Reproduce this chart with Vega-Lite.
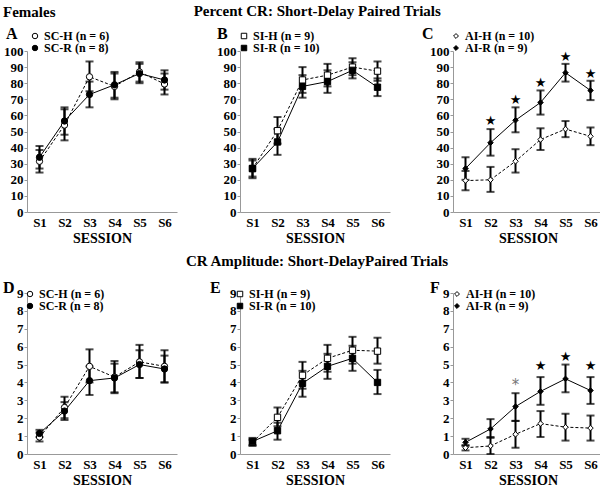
{
"$schema":"https://vega.github.io/schema/vega-lite/v6.json",
"padding":{"left":3,"top":4,"right":0,"bottom":0},
"config":{"font":"Liberation Serif","view":{"stroke":null},
"title":{"font":"Liberation Serif","fontWeight":"bold","fontSize":15,"color":"black"},
"axis":{"labelFont":"Liberation Serif","labelFontWeight":"bold","labelFontSize":13,"labelColor":"black","domainColor":"#999","tickColor":"#999","grid":false,"titleFont":"Liberation Serif","titleFontWeight":"bold","titleFontSize":14,"titleColor":"black","labelOverlap":false},
"axisX":{"ticks":false,"labelPadding":4,"labelAngle":0,"titlePadding":2},
"axisY":{"tickSize":3,"labelPadding":1},
"legend":{"orient":"none","titleOrient":"left","titleFont":"Liberation Serif","titleFontWeight":"bold","titleFontSize":16,"titleColor":"black","labelFont":"Liberation Serif","labelFontWeight":"bold","labelFontSize":12,"labelColor":"black","symbolSize":30,"symbolStrokeColor":"black","symbolStrokeWidth":1,"rowPadding":0,"labelOffset":3}},
"title":{"text":"Females","anchor":"start","dy":20},
"spacing":9,
"resolve":{"scale":{"fill":"independent"},"legend":{"fill":"independent"}},
"vconcat":[
{"title":{"text":"Percent CR: Short-Delay Paired Trials","anchor":"middle","dx":14,"offset":11},
"bounds":"flush","spacing":63,
"resolve":{"scale":{"fill":"independent"},"legend":{"fill":"independent"}},
"hconcat":[
{"width":150,"height":161,
"data":{"values":[
{"session":"S1","group":"SC-H (n = 6)","mean":31.5,"lo":24.5,"hi":38.5},
{"session":"S2","group":"SC-H (n = 6)","mean":54,"lo":44.5,"hi":63.8},
{"session":"S3","group":"SC-H (n = 6)","mean":84,"lo":75,"hi":93.5},
{"session":"S4","group":"SC-H (n = 6)","mean":78,"lo":70,"hi":86},
{"session":"S5","group":"SC-H (n = 6)","mean":87,"lo":81,"hi":93},
{"session":"S6","group":"SC-H (n = 6)","mean":79.5,"lo":73,"hi":86},
{"session":"S1","group":"SC-R (n = 8)","mean":34,"lo":27,"hi":41},
{"session":"S2","group":"SC-R (n = 8)","mean":56.5,"lo":48,"hi":65},
{"session":"S3","group":"SC-R (n = 8)","mean":73,"lo":65,"hi":81},
{"session":"S4","group":"SC-R (n = 8)","mean":79,"lo":71,"hi":87},
{"session":"S5","group":"SC-R (n = 8)","mean":86,"lo":80,"hi":92},
{"session":"S6","group":"SC-R (n = 8)","mean":82,"lo":76,"hi":88}]},
"encoding":{"x":{"field":"session","type":"ordinal","scale":{"type":"point","padding":0.5},"axis":{"title":"SESSION"}}},
"layer":[
{"mark":{"type":"errorbar","ticks":true,"size":8,"thickness":2,"color":"black"},"encoding":{"y":{"field":"lo","type":"quantitative","title":null,"scale":{"domain":[0,100]},"axis":{"values":[0,10,20,30,40,50,60,70,80,90,100],"labelOverlap":false}},"y2":{"field":"hi"}}},
{"transform":[{"filter":"datum.group == 'SC-H (n = 6)'"}],"mark":{"type":"line","color":"black","strokeWidth":1,"strokeDash":[3,2]},"encoding":{"y":{"field":"mean","type":"quantitative","title":null,"axis":{"values":[0,10,20,30,40,50,60,70,80,90,100],"labelOverlap":false}}}},
{"transform":[{"filter":"datum.group == 'SC-R (n = 8)'"}],"mark":{"type":"line","color":"black","strokeWidth":1},"encoding":{"y":{"field":"mean","type":"quantitative","title":null,"axis":{"values":[0,10,20,30,40,50,60,70,80,90,100],"labelOverlap":false}}}},
{"mark":{"type":"point","shape":"circle","filled":true,"stroke":"black","strokeWidth":1,"size":40,"opacity":1},"encoding":{"y":{"field":"mean","type":"quantitative","title":null,"axis":{"values":[0,10,20,30,40,50,60,70,80,90,100],"labelOverlap":false}},
"fill":{"field":"group","type":"nominal","scale":{"domain":["SC-H (n = 6)","SC-R (n = 8)"],"range":["white","black"]},"legend":{"title":"A","legendX":-21,"legendY":-21,"titlePadding":11,"titleAnchor":"middle","titleBaseline":"bottom","symbolType":"circle"}}}}
]},
{"width":150,"height":161,
"data":{"values":[
{"session":"S1","group":"SI-H (n = 9)","mean":27,"lo":22,"hi":32},
{"session":"S2","group":"SI-H (n = 9)","mean":50.5,"lo":42.5,"hi":59},
{"session":"S3","group":"SI-H (n = 9)","mean":82,"lo":74,"hi":90},
{"session":"S4","group":"SI-H (n = 9)","mean":85,"lo":78,"hi":92},
{"session":"S5","group":"SI-H (n = 9)","mean":90,"lo":85,"hi":95.5},
{"session":"S6","group":"SI-H (n = 9)","mean":87.5,"lo":81.5,"hi":93.5},
{"session":"S1","group":"SI-R (n = 10)","mean":27,"lo":21,"hi":33},
{"session":"S2","group":"SI-R (n = 10)","mean":43.5,"lo":35.5,"hi":51.5},
{"session":"S3","group":"SI-R (n = 10)","mean":78,"lo":71,"hi":85},
{"session":"S4","group":"SI-R (n = 10)","mean":81,"lo":74,"hi":88},
{"session":"S5","group":"SI-R (n = 10)","mean":88,"lo":83,"hi":93},
{"session":"S6","group":"SI-R (n = 10)","mean":77.5,"lo":72,"hi":83}]},
"encoding":{"x":{"field":"session","type":"ordinal","scale":{"type":"point","padding":0.5},"axis":{"title":"SESSION"}}},
"layer":[
{"mark":{"type":"errorbar","ticks":true,"size":8,"thickness":2,"color":"black"},"encoding":{"y":{"field":"lo","type":"quantitative","title":null,"scale":{"domain":[0,100]},"axis":{"values":[0,10,20,30,40,50,60,70,80,90,100],"labelOverlap":false}},"y2":{"field":"hi"}}},
{"transform":[{"filter":"datum.group == 'SI-H (n = 9)'"}],"mark":{"type":"line","color":"black","strokeWidth":1,"strokeDash":[3,2]},"encoding":{"y":{"field":"mean","type":"quantitative","title":null,"axis":{"values":[0,10,20,30,40,50,60,70,80,90,100],"labelOverlap":false}}}},
{"transform":[{"filter":"datum.group == 'SI-R (n = 10)'"}],"mark":{"type":"line","color":"black","strokeWidth":1},"encoding":{"y":{"field":"mean","type":"quantitative","title":null,"axis":{"values":[0,10,20,30,40,50,60,70,80,90,100],"labelOverlap":false}}}},
{"mark":{"type":"point","shape":"square","filled":true,"stroke":"black","strokeWidth":1,"size":40,"opacity":1},"encoding":{"y":{"field":"mean","type":"quantitative","title":null,"axis":{"values":[0,10,20,30,40,50,60,70,80,90,100],"labelOverlap":false}},
"fill":{"field":"group","type":"nominal","scale":{"domain":["SI-H (n = 9)","SI-R (n = 10)"],"range":["white","black"]},"legend":{"title":"B","legendX":-23,"legendY":-21,"titlePadding":10,"titleAnchor":"middle","titleBaseline":"bottom","symbolType":"square"}}}}
]},
{"width":150,"height":161,
"data":{"values":[
{"session":"S1","group":"AI-H (n = 10)","mean":19.5,"lo":13.5,"hi":25.5},
{"session":"S2","group":"AI-H (n = 10)","mean":20,"lo":12.5,"hi":28},
{"session":"S3","group":"AI-H (n = 10)","mean":31.5,"lo":24.5,"hi":39},
{"session":"S4","group":"AI-H (n = 10)","mean":45,"lo":38.5,"hi":52},
{"session":"S5","group":"AI-H (n = 10)","mean":51.5,"lo":46.5,"hi":56.5},
{"session":"S6","group":"AI-H (n = 10)","mean":47,"lo":41.5,"hi":52.5},
{"session":"S1","group":"AI-R (n = 9)","mean":27,"lo":20,"hi":34},
{"session":"S2","group":"AI-R (n = 9)","mean":43,"lo":35,"hi":51.5},
{"session":"S3","group":"AI-R (n = 9)","mean":57,"lo":49.5,"hi":65},
{"session":"S4","group":"AI-R (n = 9)","mean":68,"lo":60.5,"hi":75.5},
{"session":"S5","group":"AI-R (n = 9)","mean":86.5,"lo":81,"hi":92},
{"session":"S6","group":"AI-R (n = 9)","mean":75.5,"lo":69.5,"hi":81.5}]},
"encoding":{"x":{"field":"session","type":"ordinal","scale":{"type":"point","padding":0.5},"axis":{"title":"SESSION"}}},
"layer":[
{"mark":{"type":"errorbar","ticks":true,"size":8,"thickness":2,"color":"black"},"encoding":{"y":{"field":"lo","type":"quantitative","title":null,"scale":{"domain":[0,100]},"axis":{"values":[0,10,20,30,40,50,60,70,80,90,100],"labelOverlap":false}},"y2":{"field":"hi"}}},
{"transform":[{"filter":"datum.group == 'AI-H (n = 10)'"}],"mark":{"type":"line","color":"black","strokeWidth":1,"strokeDash":[3,2]},"encoding":{"y":{"field":"mean","type":"quantitative","title":null,"axis":{"values":[0,10,20,30,40,50,60,70,80,90,100],"labelOverlap":false}}}},
{"transform":[{"filter":"datum.group == 'AI-R (n = 9)'"}],"mark":{"type":"line","color":"black","strokeWidth":1},"encoding":{"y":{"field":"mean","type":"quantitative","title":null,"axis":{"values":[0,10,20,30,40,50,60,70,80,90,100],"labelOverlap":false}}}},
{"mark":{"type":"point","shape":"diamond","filled":true,"stroke":"black","strokeWidth":1,"size":30,"opacity":1},"encoding":{"y":{"field":"mean","type":"quantitative","title":null,"axis":{"values":[0,10,20,30,40,50,60,70,80,90,100],"labelOverlap":false}},
"fill":{"field":"group","type":"nominal","scale":{"domain":["AI-H (n = 10)","AI-R (n = 9)"],"range":["white","black"]},"legend":{"title":"C","legendX":-31,"legendY":-21,"titlePadding":16,"titleAnchor":"middle","titleBaseline":"bottom","symbolType":"diamond","symbolSize":24}}}},
{"data":{"values":[{"session":"S2","y":56.5,"star":"★"},{"session":"S3","y":69.5,"star":"★"},{"session":"S4","y":80,"star":"★"},{"session":"S5","y":96.5,"star":"★"},{"session":"S6","y":86,"star":"★"}]},
"mark":{"type":"text","fontSize":13,"color":"black","baseline":"middle","font":"DejaVu Sans"},"encoding":{"y":{"field":"y","type":"quantitative","title":null,"axis":{"values":[0,10,20,30,40,50,60,70,80,90,100],"labelOverlap":false}},"text":{"field":"star"}}}
]}
]},
{"title":{"text":"CR Amplitude: Short-DelayPaired Trials","anchor":"middle","dx":14,"offset":18},
"bounds":"flush","spacing":63,
"resolve":{"scale":{"fill":"independent"},"legend":{"fill":"independent"}},
"hconcat":[
{"width":150,"height":161,
"data":{"values":[
{"session":"S1","group":"SC-H (n = 6)","mean":0.95,"lo":0.7,"hi":1.2},
{"session":"S2","group":"SC-H (n = 6)","mean":2.6,"lo":2.0,"hi":3.2},
{"session":"S3","group":"SC-H (n = 6)","mean":4.9,"lo":4.0,"hi":5.85},
{"session":"S4","group":"SC-H (n = 6)","mean":4.3,"lo":3.4,"hi":5.2},
{"session":"S5","group":"SC-H (n = 6)","mean":5.15,"lo":4.25,"hi":6.1},
{"session":"S6","group":"SC-H (n = 6)","mean":4.9,"lo":4.0,"hi":5.8},
{"session":"S1","group":"SC-R (n = 8)","mean":1.15,"lo":0.95,"hi":1.35},
{"session":"S2","group":"SC-R (n = 8)","mean":2.4,"lo":1.9,"hi":2.9},
{"session":"S3","group":"SC-R (n = 8)","mean":4.1,"lo":3.3,"hi":4.9},
{"session":"S4","group":"SC-R (n = 8)","mean":4.25,"lo":3.45,"hi":5.05},
{"session":"S5","group":"SC-R (n = 8)","mean":5.0,"lo":4.25,"hi":5.8},
{"session":"S6","group":"SC-R (n = 8)","mean":4.75,"lo":4.0,"hi":5.5}]},
"encoding":{"x":{"field":"session","type":"ordinal","scale":{"type":"point","padding":0.5},"axis":{"title":"SESSION"}}},
"layer":[
{"mark":{"type":"errorbar","ticks":true,"size":8,"thickness":2,"color":"black"},"encoding":{"y":{"field":"lo","type":"quantitative","title":null,"scale":{"domain":[0,9]},"axis":{"values":[0,1,2,3,4,5,6,7,8,9],"labelOverlap":false}},"y2":{"field":"hi"}}},
{"transform":[{"filter":"datum.group == 'SC-H (n = 6)'"}],"mark":{"type":"line","color":"black","strokeWidth":1,"strokeDash":[3,2]},"encoding":{"y":{"field":"mean","type":"quantitative","title":null,"axis":{"values":[0,1,2,3,4,5,6,7,8,9],"labelOverlap":false}}}},
{"transform":[{"filter":"datum.group == 'SC-R (n = 8)'"}],"mark":{"type":"line","color":"black","strokeWidth":1},"encoding":{"y":{"field":"mean","type":"quantitative","title":null,"axis":{"values":[0,1,2,3,4,5,6,7,8,9],"labelOverlap":false}}}},
{"mark":{"type":"point","shape":"circle","filled":true,"stroke":"black","strokeWidth":1,"size":40,"opacity":1},"encoding":{"y":{"field":"mean","type":"quantitative","title":null,"axis":{"values":[0,1,2,3,4,5,6,7,8,9],"labelOverlap":false}},
"fill":{"field":"group","type":"nominal","scale":{"domain":["SC-H (n = 6)","SC-R (n = 8)"],"range":["white","black"]},"legend":{"title":"D","legendX":-24,"legendY":-5,"titlePadding":9,"titleAnchor":"start","titleBaseline":"middle","symbolType":"circle"}}}}
]},
{"width":150,"height":161,
"data":{"values":[
{"session":"S1","group":"SI-H (n = 9)","mean":0.65,"lo":0.5,"hi":0.8},
{"session":"S2","group":"SI-H (n = 9)","mean":2.05,"lo":1.55,"hi":2.6},
{"session":"S3","group":"SI-H (n = 9)","mean":4.4,"lo":3.65,"hi":5.15},
{"session":"S4","group":"SI-H (n = 9)","mean":5.35,"lo":4.6,"hi":6.1},
{"session":"S5","group":"SI-H (n = 9)","mean":5.8,"lo":5.05,"hi":6.55},
{"session":"S6","group":"SI-H (n = 9)","mean":5.75,"lo":5.05,"hi":6.5},
{"session":"S1","group":"SI-R (n = 10)","mean":0.7,"lo":0.45,"hi":0.9},
{"session":"S2","group":"SI-R (n = 10)","mean":1.3,"lo":0.8,"hi":1.75},
{"session":"S3","group":"SI-R (n = 10)","mean":3.95,"lo":3.2,"hi":4.65},
{"session":"S4","group":"SI-R (n = 10)","mean":4.9,"lo":4.2,"hi":5.6},
{"session":"S5","group":"SI-R (n = 10)","mean":5.35,"lo":4.65,"hi":6.05},
{"session":"S6","group":"SI-R (n = 10)","mean":4.0,"lo":3.35,"hi":4.7}]},
"encoding":{"x":{"field":"session","type":"ordinal","scale":{"type":"point","padding":0.5},"axis":{"title":"SESSION"}}},
"layer":[
{"mark":{"type":"errorbar","ticks":true,"size":8,"thickness":2,"color":"black"},"encoding":{"y":{"field":"lo","type":"quantitative","title":null,"scale":{"domain":[0,9]},"axis":{"values":[0,1,2,3,4,5,6,7,8,9],"labelOverlap":false}},"y2":{"field":"hi"}}},
{"transform":[{"filter":"datum.group == 'SI-H (n = 9)'"}],"mark":{"type":"line","color":"black","strokeWidth":1,"strokeDash":[3,2]},"encoding":{"y":{"field":"mean","type":"quantitative","title":null,"axis":{"values":[0,1,2,3,4,5,6,7,8,9],"labelOverlap":false}}}},
{"transform":[{"filter":"datum.group == 'SI-R (n = 10)'"}],"mark":{"type":"line","color":"black","strokeWidth":1},"encoding":{"y":{"field":"mean","type":"quantitative","title":null,"axis":{"values":[0,1,2,3,4,5,6,7,8,9],"labelOverlap":false}}}},
{"mark":{"type":"point","shape":"square","filled":true,"stroke":"black","strokeWidth":1,"size":40,"opacity":1},"encoding":{"y":{"field":"mean","type":"quantitative","title":null,"axis":{"values":[0,1,2,3,4,5,6,7,8,9],"labelOverlap":false}},
"fill":{"field":"group","type":"nominal","scale":{"domain":["SI-H (n = 9)","SI-R (n = 10)"],"range":["white","black"]},"legend":{"title":"E","legendX":-30,"legendY":-5,"titlePadding":13,"titleAnchor":"start","titleBaseline":"middle","symbolType":"square"}}}}
]},
{"width":150,"height":161,
"data":{"values":[
{"session":"S1","group":"AI-H (n = 10)","mean":0.35,"lo":0.2,"hi":0.5},
{"session":"S2","group":"AI-H (n = 10)","mean":0.45,"lo":0,"hi":0.95},
{"session":"S3","group":"AI-H (n = 10)","mean":1.1,"lo":0.35,"hi":1.85},
{"session":"S4","group":"AI-H (n = 10)","mean":1.7,"lo":0.95,"hi":2.4},
{"session":"S5","group":"AI-H (n = 10)","mean":1.5,"lo":0.75,"hi":2.25},
{"session":"S6","group":"AI-H (n = 10)","mean":1.45,"lo":0.75,"hi":2.15},
{"session":"S1","group":"AI-R (n = 9)","mean":0.65,"lo":0.45,"hi":0.85},
{"session":"S2","group":"AI-R (n = 9)","mean":1.4,"lo":0.9,"hi":1.95},
{"session":"S3","group":"AI-R (n = 9)","mean":2.65,"lo":1.85,"hi":3.4},
{"session":"S4","group":"AI-R (n = 9)","mean":3.5,"lo":2.75,"hi":4.3},
{"session":"S5","group":"AI-R (n = 9)","mean":4.2,"lo":3.45,"hi":5.0},
{"session":"S6","group":"AI-R (n = 9)","mean":3.55,"lo":2.8,"hi":4.3}]},
"encoding":{"x":{"field":"session","type":"ordinal","scale":{"type":"point","padding":0.5},"axis":{"title":"SESSION"}}},
"layer":[
{"mark":{"type":"errorbar","ticks":true,"size":8,"thickness":2,"color":"black"},"encoding":{"y":{"field":"lo","type":"quantitative","title":null,"scale":{"domain":[0,9]},"axis":{"values":[0,1,2,3,4,5,6,7,8,9],"labelOverlap":false}},"y2":{"field":"hi"}}},
{"transform":[{"filter":"datum.group == 'AI-H (n = 10)'"}],"mark":{"type":"line","color":"black","strokeWidth":1,"strokeDash":[3,2]},"encoding":{"y":{"field":"mean","type":"quantitative","title":null,"axis":{"values":[0,1,2,3,4,5,6,7,8,9],"labelOverlap":false}}}},
{"transform":[{"filter":"datum.group == 'AI-R (n = 9)'"}],"mark":{"type":"line","color":"black","strokeWidth":1},"encoding":{"y":{"field":"mean","type":"quantitative","title":null,"axis":{"values":[0,1,2,3,4,5,6,7,8,9],"labelOverlap":false}}}},
{"mark":{"type":"point","shape":"diamond","filled":true,"stroke":"black","strokeWidth":1,"size":30,"opacity":1},"encoding":{"y":{"field":"mean","type":"quantitative","title":null,"axis":{"values":[0,1,2,3,4,5,6,7,8,9],"labelOverlap":false}},
"fill":{"field":"group","type":"nominal","scale":{"domain":["AI-H (n = 10)","AI-R (n = 9)"],"range":["white","black"]},"legend":{"title":"F","legendX":-23,"legendY":-5,"titlePadding":11,"titleAnchor":"start","titleBaseline":"middle","symbolType":"diamond","symbolSize":24}}}},
{"data":{"values":[{"session":"S3","y":3.85,"star":"*"},{"session":"S4","y":4.9,"star":"★"},{"session":"S5","y":5.45,"star":"★"},{"session":"S6","y":4.9,"star":"★"}]},
"mark":{"type":"text","baseline":"middle","font":"DejaVu Sans"},"encoding":{"y":{"field":"y","type":"quantitative","title":null,"axis":{"values":[0,1,2,3,4,5,6,7,8,9],"labelOverlap":false}},"text":{"field":"star"},
"color":{"condition":{"test":"datum.star == '*'","value":"#777"},"value":"black"},
"size":{"condition":{"test":"datum.star == '*'","value":15},"value":13}}}
]}
]}
]
}
